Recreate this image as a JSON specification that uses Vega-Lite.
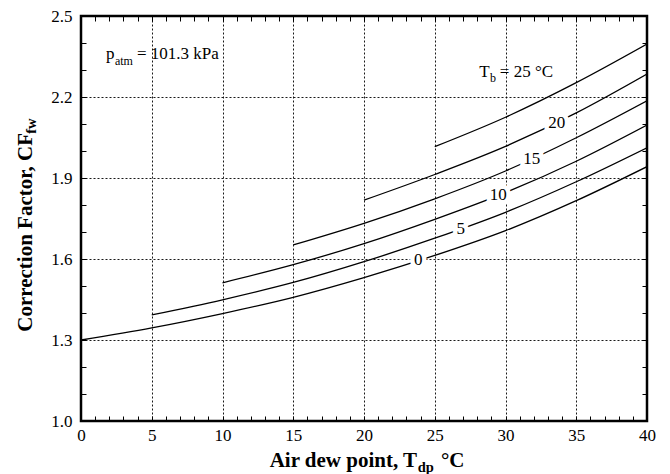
{
  "$schema": "https://vega.github.io/schema/vega-lite/v6.json",
  "width": 566,
  "height": 405,
  "autosize": {"type": "none"},
  "padding": {"left": 81, "top": 16, "right": 23, "bottom": 53},
  "background": "white",
  "config": {
    "view": {"stroke": "black", "strokeWidth": 2.5},
    "text": {"font": "Liberation Serif", "color": "black"}
  },
  "datasets": {
    "curves": [
      {"Tb": 0, "Tdp": 0, "CF": 1.300}, {"Tb": 0, "Tdp": 5, "CF": 1.345}, {"Tb": 0, "Tdp": 10, "CF": 1.398},
      {"Tb": 0, "Tdp": 15, "CF": 1.458}, {"Tb": 0, "Tdp": 20, "CF": 1.531}, {"Tb": 0, "Tdp": 25, "CF": 1.613},
      {"Tb": 0, "Tdp": 30, "CF": 1.705}, {"Tb": 0, "Tdp": 35, "CF": 1.816}, {"Tb": 0, "Tdp": 40, "CF": 1.942},
      {"Tb": 5, "Tdp": 5, "CF": 1.393}, {"Tb": 5, "Tdp": 10, "CF": 1.449}, {"Tb": 5, "Tdp": 15, "CF": 1.513},
      {"Tb": 5, "Tdp": 20, "CF": 1.590}, {"Tb": 5, "Tdp": 25, "CF": 1.677}, {"Tb": 5, "Tdp": 30, "CF": 1.773},
      {"Tb": 5, "Tdp": 35, "CF": 1.886}, {"Tb": 5, "Tdp": 40, "CF": 2.012},
      {"Tb": 10, "Tdp": 10, "CF": 1.512}, {"Tb": 10, "Tdp": 15, "CF": 1.579}, {"Tb": 10, "Tdp": 20, "CF": 1.657},
      {"Tb": 10, "Tdp": 25, "CF": 1.747}, {"Tb": 10, "Tdp": 30, "CF": 1.846}, {"Tb": 10, "Tdp": 35, "CF": 1.962},
      {"Tb": 10, "Tdp": 40, "CF": 2.096},
      {"Tb": 15, "Tdp": 15, "CF": 1.652}, {"Tb": 15, "Tdp": 20, "CF": 1.732}, {"Tb": 15, "Tdp": 25, "CF": 1.823},
      {"Tb": 15, "Tdp": 30, "CF": 1.926}, {"Tb": 15, "Tdp": 35, "CF": 2.049}, {"Tb": 15, "Tdp": 40, "CF": 2.186},
      {"Tb": 20, "Tdp": 20, "CF": 1.818}, {"Tb": 20, "Tdp": 25, "CF": 1.913}, {"Tb": 20, "Tdp": 30, "CF": 2.017},
      {"Tb": 20, "Tdp": 35, "CF": 2.141}, {"Tb": 20, "Tdp": 40, "CF": 2.285},
      {"Tb": 25, "Tdp": 25, "CF": 2.016}, {"Tb": 25, "Tdp": 30, "CF": 2.125}, {"Tb": 25, "Tdp": 35, "CF": 2.253},
      {"Tb": 25, "Tdp": 40, "CF": 2.396}
    ],
    "curveLabels": [
      {"Tb": 0, "Tdp": 23.84, "CF": 1.596},
      {"Tb": 5, "Tdp": 26.83, "CF": 1.711},
      {"Tb": 10, "Tdp": 29.49, "CF": 1.836},
      {"Tb": 15, "Tdp": 31.85, "CF": 1.969},
      {"Tb": 20, "Tdp": 33.62, "CF": 2.105}
    ],
    "blank": [{}]
  },
  "layer": [
    {
      "data": {"name": "curves"},
      "mark": {"type": "line", "color": "black", "strokeWidth": 1.3, "interpolate": "monotone", "clip": true},
      "encoding": {
        "x": {
          "field": "Tdp", "type": "quantitative",
          "scale": {"domain": [0, 40], "nice": false, "zero": false},
          "axis": {
            "orient": "bottom", "title": null, "domain": false,
            "values": [0,1,2,3,4,5,6,7,8,9,10,11,12,13,14,15,16,17,18,19,20,21,22,23,24,25,26,27,28,29,30,31,32,33,34,35,36,37,38,39,40],
            "grid": true, "gridColor": "black", "gridWidth": 1, "gridDash": [2, 2],
            "gridOpacity": {"condition": {"test": "datum.value % 5 === 0 && datum.value > 0 && datum.value < 40", "value": 0.9}, "value": 0},
            "ticks": true, "tickSize": -5, "tickColor": "black", "tickWidth": 1,
            "labelExpr": "datum.value % 5 === 0 ? datum.label : ''",
            "labelFont": "Liberation Serif", "labelFontSize": 17, "labelColor": "black",
            "labelPadding": 11, "labelFlush": false, "labelOverlap": false
          }
        },
        "y": {
          "field": "CF", "type": "quantitative",
          "scale": {"domain": [1.0, 2.5], "nice": false, "zero": false},
          "axis": {
            "orient": "left", "title": null, "domain": false,
            "values": [1.0,1.1,1.2,1.3,1.4,1.5,1.6,1.7,1.8,1.9,2.0,2.1,2.2,2.3,2.4,2.5],
            "grid": true, "gridColor": "black", "gridWidth": 1, "gridDash": [2, 2],
            "gridOpacity": {"condition": {"test": "round(datum.value * 10 - 10) % 3 === 0 && datum.value > 1.05 && datum.value < 2.45", "value": 0.9}, "value": 0},
            "ticks": true, "tickSize": -5, "tickColor": "black", "tickWidth": 1,
            "labelExpr": "round(datum.value * 10 - 10) % 3 === 0 ? format(datum.value, '.1f') : ''",
            "labelFont": "Liberation Serif", "labelFontSize": 17, "labelColor": "black",
            "labelPadding": 14, "labelFlush": false, "labelOverlap": false
          }
        },
        "detail": {"field": "Tb", "type": "nominal"}
      }
    },
    {
      "data": {"name": "curveLabels"},
      "mark": {"type": "text", "font": "Liberation Serif", "fontSize": 17, "baseline": "middle", "fill": "white", "stroke": "white", "strokeWidth": 9, "strokeJoin": "round"},
      "encoding": {
        "x": {
          "field": "Tdp", "type": "quantitative",
          "axis": {
            "orient": "top", "title": null, "domain": false, "grid": false, "labels": false,
            "values": [0,1,2,3,4,5,6,7,8,9,10,11,12,13,14,15,16,17,18,19,20,21,22,23,24,25,26,27,28,29,30,31,32,33,34,35,36,37,38,39,40],
            "ticks": true, "tickSize": -5, "tickColor": "black", "tickWidth": 1
          }
        },
        "y": {
          "field": "CF", "type": "quantitative",
          "axis": {
            "orient": "right", "title": null, "domain": false, "grid": false, "labels": false,
            "values": [1.0,1.1,1.2,1.3,1.4,1.5,1.6,1.7,1.8,1.9,2.0,2.1,2.2,2.3,2.4,2.5],
            "ticks": true, "tickSize": -5, "tickColor": "black", "tickWidth": 1
          }
        },
        "text": {"field": "Tb", "type": "nominal"}
      }
    },
    {
      "data": {"name": "curveLabels"},
      "mark": {"type": "text", "font": "Liberation Serif", "fontSize": 17, "baseline": "middle", "color": "black"},
      "encoding": {
        "x": {"field": "Tdp", "type": "quantitative", "axis": null},
        "y": {"field": "CF", "type": "quantitative", "axis": null},
        "text": {"field": "Tb", "type": "nominal"}
      }
    },
    {
      "data": {"name": "blank"},
      "layer": [
        {"mark": {"type": "text", "text": "p", "fontSize": 17, "align": "left", "baseline": "alphabetic"},
         "encoding": {"x": {"datum": 1.77, "type": "quantitative", "axis": null}, "y": {"datum": 2.341, "type": "quantitative", "axis": null}}},
        {"mark": {"type": "text", "text": "atm", "fontSize": 12, "align": "left", "baseline": "alphabetic"},
         "encoding": {"x": {"datum": 2.4, "type": "quantitative", "axis": null}, "y": {"datum": 2.319, "type": "quantitative", "axis": null}}},
        {"mark": {"type": "text", "text": "= 101.3 kPa", "fontSize": 17, "align": "left", "baseline": "alphabetic"},
         "encoding": {"x": {"datum": 3.96, "type": "quantitative", "axis": null}, "y": {"datum": 2.341, "type": "quantitative", "axis": null}}},
        {"mark": {"type": "text", "text": "T", "fontSize": 17, "align": "left", "baseline": "alphabetic"},
         "encoding": {"x": {"datum": 28.15, "type": "quantitative", "axis": null}, "y": {"datum": 2.275, "type": "quantitative", "axis": null}}},
        {"mark": {"type": "text", "text": "b", "fontSize": 12, "align": "left", "baseline": "alphabetic"},
         "encoding": {"x": {"datum": 28.9, "type": "quantitative", "axis": null}, "y": {"datum": 2.255, "type": "quantitative", "axis": null}}},
        {"mark": {"type": "text", "text": "= 25 °C", "fontSize": 17, "align": "left", "baseline": "alphabetic"},
         "encoding": {"x": {"datum": 29.6, "type": "quantitative", "axis": null}, "y": {"datum": 2.275, "type": "quantitative", "axis": null}}},
        {"mark": {"type": "text", "text": "Air dew point, T", "fontSize": 21, "fontWeight": "bold", "align": "right", "baseline": "alphabetic"},
         "encoding": {"x": {"datum": 23.75, "type": "quantitative", "axis": null}, "y": {"datum": 0.83, "type": "quantitative", "axis": null}}},
        {"mark": {"type": "text", "text": "dp", "fontSize": 14.5, "fontWeight": "bold", "align": "left", "baseline": "alphabetic"},
         "encoding": {"x": {"datum": 23.8, "type": "quantitative", "axis": null}, "y": {"datum": 0.811, "type": "quantitative", "axis": null}}},
        {"mark": {"type": "text", "text": "°C", "fontSize": 21, "fontWeight": "bold", "align": "left", "baseline": "alphabetic"},
         "encoding": {"x": {"datum": 25.44, "type": "quantitative", "axis": null}, "y": {"datum": 0.83, "type": "quantitative", "axis": null}}},
        {"mark": {"type": "text", "text": "Correction Factor, CF", "fontSize": 21, "fontWeight": "bold", "angle": 270, "align": "right", "baseline": "alphabetic"},
         "encoding": {"x": {"datum": -3.46, "type": "quantitative", "axis": null}, "y": {"datum": 2.067, "type": "quantitative", "axis": null}}},
        {"mark": {"type": "text", "text": "fw", "fontSize": 14.5, "fontWeight": "bold", "angle": 270, "align": "left", "baseline": "alphabetic"},
         "encoding": {"x": {"datum": -3.15, "type": "quantitative", "axis": null}, "y": {"datum": 2.064, "type": "quantitative", "axis": null}}}
      ]
    }
  ],
  "resolve": {"axis": {"x": "independent", "y": "independent"}}
}
